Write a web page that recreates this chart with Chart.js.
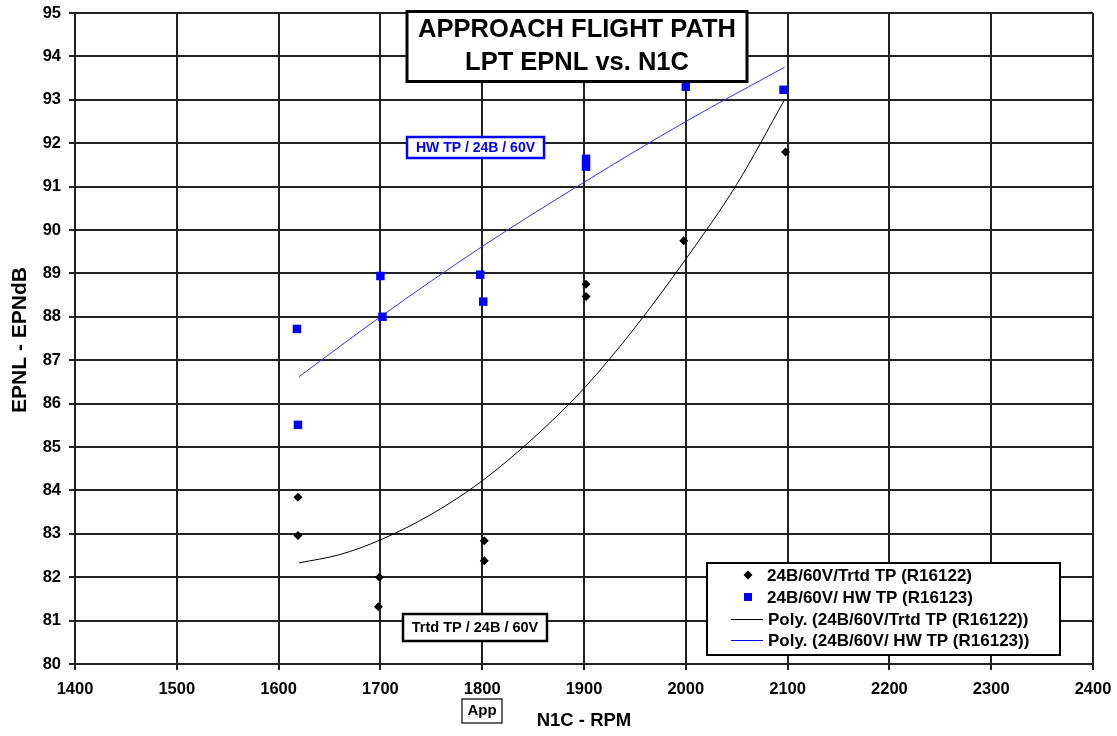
<!DOCTYPE html>
<html><head><meta charset="utf-8">
<script src="https://cdn.jsdelivr.net/npm/chart.js@4.4.1/dist/chart.umd.min.js"></script>
<style>html,body{margin:0;padding:0;background:#fff;overflow:hidden}#wrap{width:1117px;height:736px;position:relative}</style>
</head><body><div id="wrap"><canvas id="c" width="1117" height="736"></canvas></div>
<script>
// ---- data ----
const trtdN1C  = [1619, 1619, 1699, 1698, 1802, 1802, 1902, 1902, 1998, 2098];
const trtdEPNL = [83.84, 82.96, 82.0, 81.32, 82.84, 82.38, 88.75, 88.47, 89.75, 91.8];
const hwN1C    = [1618, 1619, 1700, 1702, 1798, 1801, 1902, 1902, 2000, 2096];
const hwEPNL   = [87.72, 85.51, 88.94, 88.0, 88.97, 88.35, 91.64, 91.46, 93.3, 93.23];
const trtdFitN1C  = [1620, 1660, 1700, 1750, 1800, 1850, 1900, 1950, 2000, 2050, 2097];
const trtdFitEPNL = [82.33, 82.52, 82.86, 83.45, 84.22, 85.2, 86.35, 87.75, 89.33, 91.05, 93.0];
const hwFitN1C    = [1620, 1700, 1800, 1900, 2000, 2097];
const hwFitEPNL   = [86.62, 88.0, 89.62, 91.1, 92.5, 93.75];
const xTickValues = [1400, 1500, 1600, 1700, 1800, 1900, 2000, 2100, 2200, 2300, 2400];
const yTickValues = [80, 81, 82, 83, 84, 85, 86, 87, 88, 89, 90, 91, 92, 93, 94, 95];
const seriesNames = ['24B/60V/Trtd TP (R16122)', '24B/60V/ HW TP (R16123)',
                     'Poly. (24B/60V/Trtd TP (R16122))', 'Poly. (24B/60V/ HW TP (R16123))'];
const titleLines = ['APPROACH FLIGHT PATH', 'LPT EPNL vs. N1C'];
const xTitle = 'N1C - RPM';
const yTitle = 'EPNL - EPNdB';
const hwLabel = 'HW TP / 24B / 60V';
const trtdLabel = 'Trtd TP / 24B / 60V';
const appLabel = 'App';

const FONT = '"Liberation Sans", Arial, sans-serif';
const BLUE = '#0000ff';
const zip = (xs, ys) => xs.map((x, i) => ({x, y: ys[i]}));

function box(ctx, cx, cy, w, h, stroke, lw) {
  ctx.save();
  ctx.fillStyle = '#fff';
  ctx.fillRect(cx - w/2, cy - h/2, w, h);
  ctx.strokeStyle = stroke; ctx.lineWidth = lw;
  ctx.strokeRect(cx - w/2, cy - h/2, w, h);
  ctx.restore();
}

const annot = {
  id: 'annot',
  afterDraw(chart) {
    const ctx = chart.ctx;
    ctx.save();
    // title box
    box(ctx, 577, 46.5, 340, 70, '#000', 3);
    ctx.fillStyle = '#000';
    ctx.textAlign = 'center'; ctx.textBaseline = 'middle';
    ctx.font = 'bold 25.5px ' + FONT;
    ctx.fillText(titleLines[0], 577, 30);
    ctx.fillText(titleLines[1], 577, 63);
    // HW label
    box(ctx, 475.5, 147.5, 137, 21, BLUE, 2.5);
    ctx.fillStyle = BLUE; ctx.font = 'bold 14px ' + FONT;
    ctx.fillText(hwLabel, 475.5, 148);
    // Trtd label
    box(ctx, 475, 627.5, 144, 27, '#000', 2.5);
    ctx.fillStyle = '#000'; ctx.font = 'bold 14.5px ' + FONT;
    ctx.fillText(trtdLabel, 475, 628);
    // App label
    box(ctx, 482, 711, 40, 24, '#000', 1.2);
    ctx.font = 'bold 15px ' + FONT;
    ctx.fillText(appLabel, 482, 711);
    // axis titles
    ctx.font = 'bold 18.5px ' + FONT;
    ctx.fillText(xTitle, 584, 721);
    ctx.save();
    ctx.translate(20, 340); ctx.rotate(-Math.PI/2);
    ctx.font = 'bold 21px ' + FONT;
    ctx.fillText(yTitle, 0, 0);
    ctx.restore();
    // legend
    box(ctx, 883.5, 609, 353, 92, '#000', 2);
    const rows = [575, 597, 619, 640];
    ctx.textAlign = 'left'; ctx.font = 'bold 17px ' + FONT;
    rows.forEach((y, i) => {
      ctx.fillStyle = '#000';
      ctx.fillText(seriesNames[i], i < 2 ? 767 : 768, y + 1);
    });
    // markers
    ctx.fillStyle = '#000';
    ctx.beginPath();
    ctx.moveTo(748, rows[0] - 4.5); ctx.lineTo(752.5, rows[0]); ctx.lineTo(748, rows[0] + 4.5); ctx.lineTo(743.5, rows[0]);
    ctx.closePath(); ctx.fill();
    ctx.fillStyle = BLUE; ctx.fillRect(744, rows[1] - 4, 8, 8);
    ctx.lineWidth = 1;
    ctx.strokeStyle = '#000'; ctx.beginPath(); ctx.moveTo(731, rows[2] + 0.5); ctx.lineTo(763, rows[2] + 0.5); ctx.stroke();
    ctx.strokeStyle = BLUE; ctx.beginPath(); ctx.moveTo(731, rows[3] + 0.5); ctx.lineTo(763, rows[3] + 0.5); ctx.stroke();
    ctx.restore();
  }
};

const gridCfg = {color: '#222', lineWidth: 2, tickLength: 6, drawTicks: true};
new Chart(document.getElementById('c'), {
  type: 'scatter',
  data: {
    datasets: [
      {label: seriesNames[2], data: zip(trtdFitN1C, trtdFitEPNL), showLine: true, borderColor: '#000', borderWidth: 1,
       pointRadius: 0, cubicInterpolationMode: 'monotone', fill: false, order: 3},
      {label: seriesNames[3], data: zip(hwFitN1C, hwFitEPNL), showLine: true, borderColor: '#3030ff', borderWidth: 1,
       pointRadius: 0, cubicInterpolationMode: 'monotone', fill: false, order: 3},
      {label: seriesNames[0], data: zip(trtdN1C, trtdEPNL), pointStyle: 'rectRot', pointRadius: 4.5,
       backgroundColor: '#000', borderColor: '#000', borderWidth: 0, showLine: false, order: 1},
      {label: seriesNames[1], data: zip(hwN1C, hwEPNL), pointStyle: 'rect', pointRadius: 6,
       backgroundColor: BLUE, borderColor: BLUE, borderWidth: 0, showLine: false, order: 2}
    ]
  },
  options: {
    responsive: false, animation: false, devicePixelRatio: 1,
    layout: {padding: {top: 13, right: 24, left: 0, bottom: 0}},
    plugins: {legend: {display: false}, tooltip: {enabled: false}, title: {display: false}},
    scales: {
      x: {type: 'linear', min: xTickValues[0], max: xTickValues[xTickValues.length - 1],
          afterBuildTicks: s => { s.ticks = xTickValues.map(v => ({value: v})); },
          afterFit: s => { s.height = 72; s.paddingLeft = 0; s.paddingRight = 0; },
          grid: gridCfg, border: {color: '#222', width: 2},
          ticks: {color: '#000', padding: 10, maxRotation: 0, callback: v => String(v),
                  font: {family: FONT, size: 16.5, weight: 'bold'}}},
      y: {type: 'linear', min: yTickValues[0], max: yTickValues[yTickValues.length - 1],
          afterBuildTicks: s => { s.ticks = yTickValues.map(v => ({value: v})); },
          afterFit: s => { s.width = 75; s.paddingTop = 0; s.paddingBottom = 0; },
          grid: gridCfg, border: {color: '#222', width: 2},
          ticks: {color: '#000', padding: 8, callback: v => String(v),
                  font: {family: FONT, size: 16.5, weight: 'bold'}}}
    }
  },
  plugins: [annot]
});
</script></body></html>
